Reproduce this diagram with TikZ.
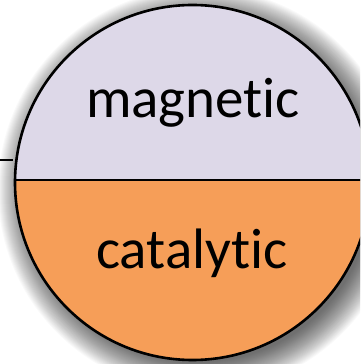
\documentclass[tikz,border=0pt]{standalone}
\usepackage{fontspec}
\setmainfont{Carlito}[Ligatures={NoCommon,NoRequired,NoContextual}]
\definecolor{lav}{RGB}{221,216,232}
\definecolor{org}{RGB}{246,158,88}
\tikzset{
  label/.style={anchor=base, font=\fontsize{57}{60}\selectfont, text=black, inner sep=0pt},
  outline/.style={draw=black, line width=2.6pt}
}
\begin{document}
\begin{tikzpicture}[x=1pt,y=1pt]
\useasboundingbox (0,0) rectangle (360,364);
\clip (0,0) rectangle (360,364);
\fill[white] (0,0) rectangle (360,364);
% blurred shadow
\foreach \i in {0,...,30}{
  \fill[black, fill opacity=0.024] (200,174) circle ({172+30-\i});
}
\coordinate (c) at (192.5,181.5);
\begin{scope}
  \clip (c) circle (177.5);
  \fill[lav] (0,184) rectangle (400,364);
  \fill[org] (0,0) rectangle (400,184);
\end{scope}
\coordinate (dl) at (15,184);
\coordinate (dr) at (370,184);
\draw[black, line width=2.2pt] (dl) -- (dr);
\draw[outline] (c) circle (177.5);
\coordinate (l0) at (0,204);
\coordinate (l1) at (13,204);
\draw[black, line width=1.5pt] (l0) -- (l1);
\node[label] (mag) at (193,246) {magnetic};
\node[label] (cat) at (192,95) {catalytic};
\end{tikzpicture}
\end{document}
